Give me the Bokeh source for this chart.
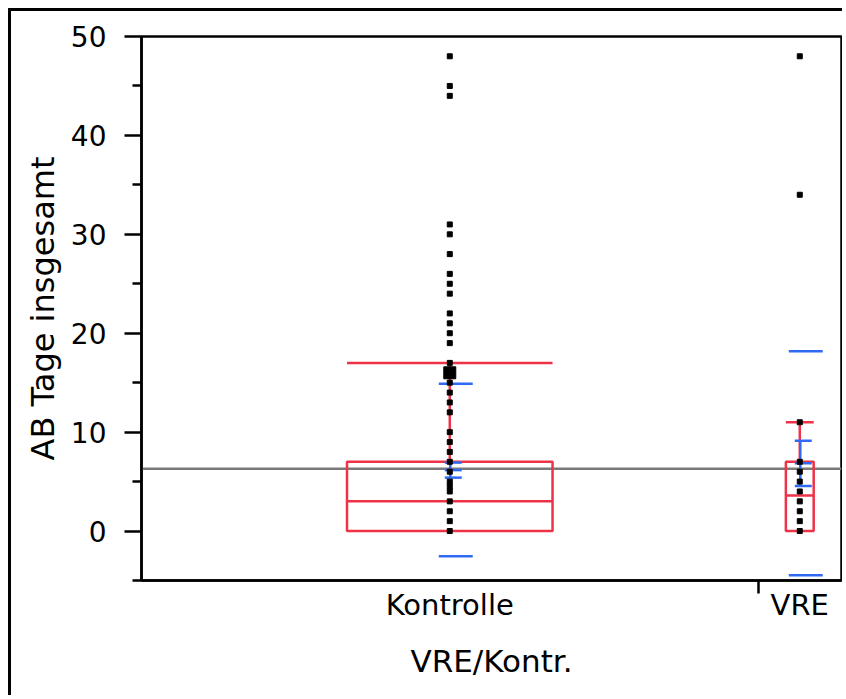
from bokeh.plotting import figure
from bokeh.models import Range1d, FixedTicker
from bokeh.embed import file_html
from bokeh.resources import INLINE

# ---------------- data ----------------
groups = ["Kontrolle", "VRE"]
group_sizes = [133, 18]                      # x-axis proportional widths
kontrolle_values = [0, 1, 2, 3, 4, 4.5, 5, 6, 7, 8, 9, 10, 12, 13, 14, 15, 17,
                    19, 20, 21, 22, 24, 25, 26, 28, 30, 31, 44, 45, 48]
kontrolle_highlight = [16]
vre_values = [0, 1, 2, 3, 4, 5, 6, 7, 11, 34, 48]
q1 = [0, 0]
median = [3, 3.6]
q3 = [7, 7]
upper_whisker = [17, 11]
means = [6.16, 6.85]
std_err = [0.76, 2.29]
std_dev = [8.72, 11.33]
grand_mean = 6.3
y_ticks = [0, 10, 20, 30, 40, 50]
y_minor = [-5, 5, 15, 25, 35, 45]

RED = "#EE3349"
BLUE = "#2F6BF2"
FONT = "DejaVu Sans"

total = sum(group_sizes)
starts = [sum(group_sizes[:i]) for i in range(len(group_sizes))]
centers = [s + n / 2 for s, n in zip(starts, group_sizes)]
boundaries = [s + n for s, n in zip(starts, group_sizes)][:-1]

p = figure(width=834, height=687, output_backend="svg", toolbar_location=None,
           x_range=Range1d(0, total), y_range=Range1d(-5, 50),
           min_border_left=130, min_border_top=25, min_border_right=4,
           min_border_bottom=118)
p.styles = {"border-top": "3px solid black", "border-left": "3px solid black",
            "margin-top": "8px", "margin-left": "8px"}
p.xgrid.visible = False
p.ygrid.visible = False
p.outline_line_color = "black"
p.outline_line_width = 2.5
p.outline_line_alpha = 1.0

PX = total / 701.0   # data units per screen pixel (x)

# grand mean line
p.line([0, total], [grand_mean, grand_mean], line_color="#7a7a7a", line_width=2.5)

# boxes
for c, n, a, m, b, w in zip(centers, group_sizes, q1, median, q3, upper_whisker):
    hw = n / 6.0
    p.quad(left=[c - hw], right=[c + hw], bottom=[a], top=[b],
           fill_alpha=0, line_color=RED, line_width=2.5)
    p.segment(x0=[c - hw], x1=[c + hw], y0=[m], y1=[m], line_color=RED, line_width=2.5)
    p.segment(x0=[c], x1=[c], y0=[b], y1=[w], line_color=RED, line_width=2.5)
    p.segment(x0=[c - hw], x1=[c + hw], y0=[w], y1=[w], line_color=RED, line_width=2.5)

# mean error bars and std dev lines
for c, mu, se, sd in zip(centers, means, std_err, std_dev):
    p.segment(x0=[c + 0.5 * PX], x1=[c + 0.5 * PX], y0=[mu - se], y1=[mu + se],
              line_color=BLUE, line_width=2.5)
    p.segment(x0=[c - 5 * PX] * 3, x1=[c + 12 * PX] * 3,
              y0=[mu - se, mu, mu + se], y1=[mu - se, mu, mu + se],
              line_color=BLUE, line_width=2.5)
    p.segment(x0=[c - 11 * PX] * 2, x1=[c + 23 * PX] * 2,
              y0=[mu - sd, mu + sd], y1=[mu - sd, mu + sd],
              line_color=BLUE, line_width=2.5)

# data points
p.scatter([centers[0]] * len(kontrolle_values), kontrolle_values, marker="square",
          size=5, color="black")
p.scatter([centers[0]] * len(kontrolle_highlight), kontrolle_highlight, marker="square",
          size=12, color="black")
p.scatter([centers[1]] * len(vre_values), vre_values, marker="square",
          size=5, color="black")

# y axis
p.yaxis.ticker = FixedTicker(ticks=y_ticks, minor_ticks=y_minor)
p.yaxis.axis_label = "AB Tage insgesamt"
p.yaxis.axis_label_text_font = FONT
p.yaxis.axis_label_text_font_size = "32px"
p.yaxis.axis_label_text_font_style = "normal"
p.yaxis.axis_label_text_color = "black"
p.yaxis.axis_label_standoff = 6
p.yaxis.major_label_text_font = FONT
p.yaxis.major_label_text_font_size = "28px"
p.yaxis.major_label_text_color = "black"
p.yaxis.major_label_standoff = 18
p.yaxis.major_tick_out = 17
p.yaxis.major_tick_in = 0
p.yaxis.minor_tick_out = 9
p.yaxis.minor_tick_in = 0
p.yaxis.axis_line_width = 2.5
p.yaxis.major_tick_line_width = 2.5
p.yaxis.minor_tick_line_width = 2.5
p.yaxis.axis_line_color = "black"
p.yaxis.major_tick_line_color = "black"
p.yaxis.minor_tick_line_color = "black"

# x axis
p.xaxis.ticker = FixedTicker(ticks=centers, minor_ticks=boundaries)
p.xaxis.major_label_overrides = {c: g for c, g in zip(centers, groups)}
p.xaxis.axis_label = "VRE/Kontr."
p.xaxis.axis_label_text_font = FONT
p.xaxis.axis_label_text_font_size = "31px"
p.xaxis.axis_label_text_font_style = "normal"
p.xaxis.axis_label_text_color = "black"
p.xaxis.axis_label_standoff = 18
p.xaxis.major_label_text_font = FONT
p.xaxis.major_label_text_font_size = "29px"
p.xaxis.major_label_text_color = "black"
p.xaxis.major_label_standoff = -6
p.xaxis.major_tick_out = 0
p.xaxis.major_tick_in = 0
p.xaxis.major_tick_line_color = None
p.xaxis.minor_tick_out = 13
p.xaxis.minor_tick_in = 0
p.xaxis.minor_tick_line_width = 2.5
p.xaxis.minor_tick_line_color = "black"
p.xaxis.axis_line_width = 2.5
p.xaxis.axis_line_color = "black"

open("out.html", "w").write(file_html(p, INLINE))
